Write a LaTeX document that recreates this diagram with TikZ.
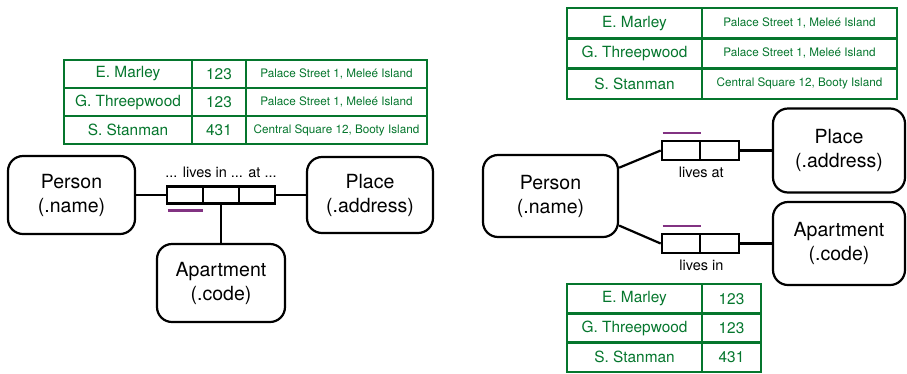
\documentclass[tikz,border=0pt]{standalone}
\usepackage{fontspec}
\setmainfont{TeX Gyre Heros}
\usetikzlibrary{positioning}
\definecolor{tgreen}{RGB}{5,118,45}
\definecolor{keypurple}{RGB}{130,50,130}
\tikzset{
  entity/.style={draw, line width=2.2pt, rounded corners=15pt, align=center, inner sep=0pt, font=\fontsize{19.5}{24}\selectfont},
  rolecell/.style={draw, line width=2.2pt, inner sep=0pt, minimum width=36pt, minimum height=17pt},
  tcell/.style={draw=tgreen, text=tgreen, line width=2.7pt, inner sep=0pt},
  namefont/.style={font=\fontsize{15.4}{18}\selectfont},
  addrfont/.style={font=\fontsize{11.7}{14}\selectfont},
  rolelabel/.style={inner sep=0pt, font=\fontsize{14.5}{17}\selectfont},
  keybar/.style={keypurple, line width=2.5pt},
  link/.style={line width=2.2pt},
}
\begin{document}
\begin{tikzpicture}[x=1pt, y=-1pt]
\useasboundingbox (0,0) rectangle (907,373);
\begin{scope}
\foreach \n/\c/\a [count=\i] in {E. Marley/123/{Palace Street 1, Meleé Island}, G. Threepwood/123/{Palace Street 1, Meleé Island}, S. Stanman/431/{Central Square 12, Booty Island}}
{
    \node[tcell, namefont, minimum width=128pt, minimum height=28pt] (lt\i n) at (128,46+28*\i) {\n};
    \node[tcell, namefont, minimum width=54pt, minimum height=28pt] (lt\i c) at (219,46+28*\i) {\c};
    \node[tcell, addrfont, minimum width=181pt, minimum height=28pt] (lt\i a) at (336.5,46+28*\i) {\a};
}
\node[entity, minimum width=127pt, minimum height=78pt] (lperson) at (71.5,195) {Person\\(.name)};
\node[entity, minimum width=126pt, minimum height=76pt] (lplace) at (370,195) {Place\\(.address)};
\node[entity, minimum width=128pt, minimum height=78pt] (lapt) at (221,283) {Apartment\\(.code)};
\foreach \i in {1,2,3}
    \node[rolecell] (lr\i) at (149+36*\i,195) {};
\node[rolelabel, above=7pt of lr2] (lrtext) {... lives in ... at ...};
\draw[keybar] ([xshift=2pt,yshift=-6pt]lr1.south west)--([xshift=-1pt,yshift=-6pt]lr1.south east);
\draw[link] (lperson)--(lr1);
\draw[link] (lr3)--(lplace);
\draw[link] (lr2)--(lapt);
\end{scope}
\begin{scope}
\foreach \n/\a [count=\i] in {E. Marley/{Palace Street 1, Meleé Island}, G. Threepwood/{Palace Street 1, Meleé Island}, S. Stanman/{Central Square 12, Booty Island}}
{
    \node[tcell, namefont, minimum width=135pt, minimum height=30.3pt] (rt\i n) at (634.5,-7.15+30.3*\i) {\n};
    \node[tcell, addrfont, minimum width=195pt, minimum height=30.3pt] (rt\i a) at (799.5,-7.15+30.3*\i) {\a};
}
\foreach \n/\c [count=\i] in {E. Marley/123, G. Threepwood/123, S. Stanman/431}
{
    \node[tcell, namefont, minimum width=135pt, minimum height=29.3pt] (rb\i n) at (634.5,269.35+29.3*\i) {\n};
    \node[tcell, namefont, minimum width=59pt, minimum height=29.3pt] (rb\i c) at (731.5,269.35+29.3*\i) {\c};
}
\node[entity, minimum width=135pt, minimum height=82pt] (rperson) at (550.5,196) {Person\\(.name)};
\node[entity, minimum width=132pt, minimum height=84pt] (rplace) at (839,150.5) {Place\\(.address)};
\node[entity, minimum width=132pt, minimum height=83pt] (rapt) at (839,243.5) {Apartment\\(.code)};
\node[rolecell, minimum width=38.5pt, minimum height=19pt] (at1) at (681,150.5) {};
\node[rolecell, minimum width=38.5pt, minimum height=19pt] (at2) at (719.5,150.5) {};
\node[rolecell, minimum width=38.5pt, minimum height=19pt] (in1) at (681,243.5) {};
\node[rolecell, minimum width=38.5pt, minimum height=19pt] (in2) at (719.5,243.5) {};
\node[rolelabel, below=6pt of at1.south east] (attext) {lives at};
\node[rolelabel, below=6pt of in1.south east] (intext) {lives in};
\draw[keybar] ([xshift=2pt,yshift=7pt]at1.north west)--([yshift=7pt]at1.north east);
\draw[keybar] ([xshift=2pt,yshift=7pt]in1.north west)--([yshift=7pt]in1.north east);
\draw[link] (rperson)--(at1.west);
\draw[link] (rperson)--(in1.west);
\draw[link] (at2)--(rplace);
\draw[link] (in2)--(rapt);
\end{scope}
\end{tikzpicture}
\end{document}
